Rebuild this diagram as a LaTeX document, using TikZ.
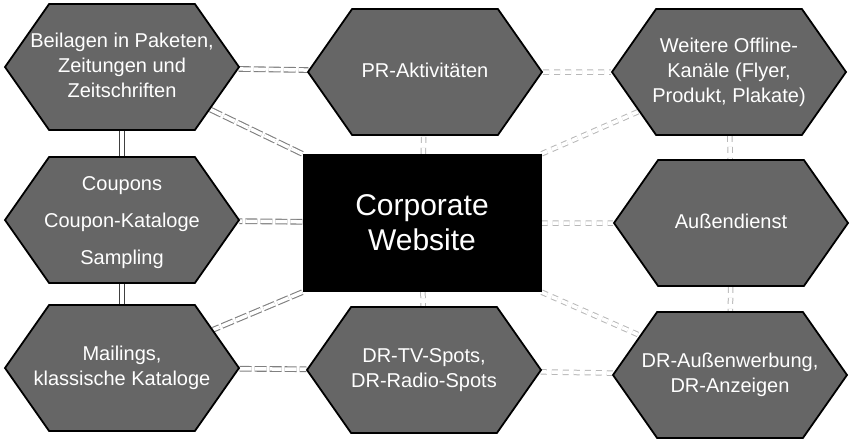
\documentclass[tikz,border=0pt]{standalone}
\usepackage{fontspec}
\setmainfont{Liberation Sans}
\usetikzlibrary{shapes.symbols}
\pgfdeclarelayer{paper}
\pgfdeclarelayer{lines}
\pgfsetlayers{paper,lines,main}
\newcommand\hx[1]{\makebox[0pt]{\begin{tabular}{@{}c@{}}#1\end{tabular}}}
\begin{document}
\begin{tikzpicture}[x=1pt,y=-1pt,
  hex/.style={signal, signal to=east and west, signal pointer angle=110,
    draw=black, line width=1.8pt, fill=black!60,
    minimum width=234pt, minimum height=126pt, inner sep=0pt,
    text=white, font=\fontsize{20}{25}\selectfont},
  web/.style={fill=black, minimum width=239pt, minimum height=138pt,
    text=white, font=\fontsize{30}{35}\selectfont, align=center},
  link/.style={draw=black!75, line width=1.4pt, double=white, double distance=3.5pt},
  glink/.style={link, line width=1.1pt, draw=black!50, dash pattern=on 12pt off 3pt},
  flink/.style={link, line width=1pt, draw=black!28, dash pattern=on 6pt off 5pt}]
\begin{pgfonlayer}{paper}
  \fill[white] (0,0) rectangle (853,442);
\end{pgfonlayer}
\useasboundingbox (0,0) rectangle (853,442);

\node[web] (w) at (422,223) {Corporate\\Website};

\node[hex] (h1) at (122,67) {\hx{Beilagen in Paketen,\\Zeitungen und\\Zeitschriften}};
\node[hex] (h2) at (425,72) {\hx{PR-Aktivitäten}};
\node[hex] (h3) at (729,72) {\hx{Weitere Offline-\\Kanäle (Flyer,\\Produkt, Plakate)}};
\node[hex, font=\fontsize{20}{37}\selectfont] (h4) at (122,220) {\hx{Coupons\\Coupon-Kataloge\\Sampling}};
\node[hex] (h5) at (731,223) {\hx{Außendienst}};
\node[hex] (h6) at (122,368) {\hx{Mailings,\\klassische Kataloge}};
\node[hex] (h7) at (424,370) {\hx{DR-TV-Spots,\\DR-Radio-Spots}};
\node[hex] (h8) at (730,375) {\hx{DR-Außenwerbung,\\DR-Anzeigen}};

\begin{pgfonlayer}{lines}
  \draw[link] (h1) -- (h4);
  \draw[link] (h4) -- (h6);
  \draw[glink] (h1) -- (h2);
  \draw[glink] (h6) -- (h7);
  \draw[flink] (h2) -- (h3);
  \draw[flink] (h7) -- (h8);
  \draw[flink] (h3) -- (h5);
  \draw[flink] (h5) -- (h8);
  \draw[flink] (w) -- (h2);
  \draw[flink] (w) -- (h7);
  \draw[glink] (w) -- (h4);
  \draw[flink] (w) -- (h5);
  \draw[glink] (w.north west) -- (h1);
  \draw[flink] (w.north east) -- (h3);
  \draw[glink] (w.south west) -- (h6);
  \draw[flink] (w.south east) -- (h8);
\end{pgfonlayer}
\end{tikzpicture}
\end{document}
